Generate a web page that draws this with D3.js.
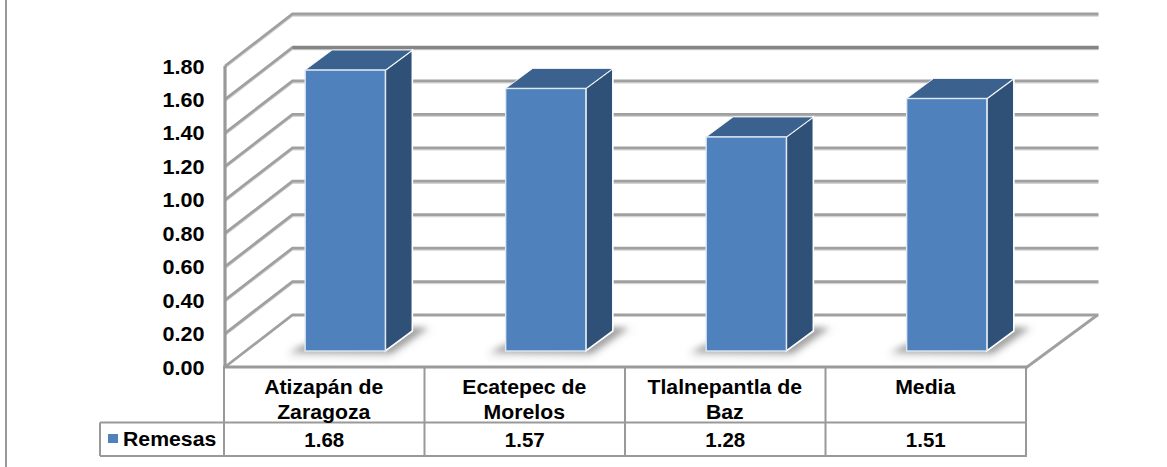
<!DOCTYPE html>
<html><head><meta charset="utf-8">
<script src="https://cdn.jsdelivr.net/npm/d3@7"></script>
<style>html,body{margin:0;padding:0;background:#fff;overflow:hidden}
text{font-family:"Liberation Sans",Arial,sans-serif;font-weight:bold;fill:#000}</style>
</head><body><svg id="c" width="1167" height="467"></svg>
<script>
const categories = [["Atizapán de","Zaragoza"],["Ecatepec de","Morelos"],["Tlalnepantla de","Baz"],["Media"]];
const categoryKeys = ["Atizapán de Zaragoza","Ecatepec de Morelos","Tlalnepantla de Baz","Media"];
const seriesName = "Remesas";
const values = [1.68,1.57,1.28,1.51];
const valueLabels = ["1.68","1.57","1.28","1.51"];
const yTicks = [0,0.2,0.4,0.6,0.8,1.0,1.2,1.4,1.6,1.8];

const svg = d3.select("#c");
const W = 802, L = 225, B = 367, T = 66;
const x = d3.scaleBand().domain(categoryKeys).range([L, L+W]).paddingInner(.6).paddingOuter(.3);
const y = d3.scaleLinear().domain([0,1.8]).range([B,T]);
const dx = 67.5, dy = -52;        // wall depth
const fx = 20, fy = -16;          // bar front offset from chart front
const bx = 27, by = -20;          // bar depth
const line = d3.line();
const grey = "#a0a0a0";

const defs = svg.append("defs");
const addBlur = (id,s) => defs.append("filter").attr("id",id).attr("x","-30%").attr("y","-100%").attr("width","160%").attr("height","300%")
  .append("feGaussianBlur").attr("stdDeviation",s);
addBlur("blur",3); addBlur("blurWide",5);
defs.append("filter").attr("id","soft").attr("x","-5%").attr("y","-5%").attr("width","110%").attr("height","110%")
  .append("feGaussianBlur").attr("stdDeviation",.45);

svg.append("line").attr("x1",6).attr("x2",6).attr("y1",0).attr("y2",467).attr("stroke","#999").attr("stroke-width",2);

// gridlines
const gridG = svg.append("g").attr("filter","url(#soft)");
const gridPts = t => [[L,y(t)],[L+dx,y(t)+dy],[L+W+dx+4,y(t)+dy]];
gridG.append("g").selectAll("path").data(yTicks.filter(t=>t>0)).join("path")
  .attr("d",t=>line(gridPts(t).map(p=>[p[0],p[1]+1.8]))).attr("fill","none").attr("stroke","#d4d4d4").attr("stroke-width",1.8);
gridG.append("g").selectAll("path").data(yTicks).join("path")
  .attr("d",t=>line(gridPts(t))).attr("fill","none").attr("stroke",grey).attr("stroke-width",2.8);
gridG.append("g").selectAll("path").data(yTicks.filter(t=>t===1.6)).join("path")
  .attr("d",t=>line(gridPts(t).slice(1))).attr("fill","none").attr("stroke","#858585").attr("stroke-width",3.4);
// floor right edge
gridG.append("path").attr("d",line([[L+W,B],[L+W+dx+3,B+dy]])).attr("fill","none").attr("stroke",grey).attr("stroke-width",2.8);
// left wall
gridG.append("line").attr("x1",L).attr("x2",L).attr("y1",T).attr("y2",B+1).attr("stroke","#999").attr("stroke-width",3.2);

// bars
const g = svg.append("g").selectAll("g").data(values).join("g");
const bL = (d,i) => x(categoryKeys[i])+fx;
const bR = (d,i) => bL(d,i)+x.bandwidth();
const bTop = d => y(d)+fy;
const bBot = B+fy;
g.append("path").attr("filter","url(#blurWide)").attr("fill","#e2e2e2")
  .attr("d",(d,i)=>line([[bL(d,i)-20,bBot+5],[bR(d,i)+4,bBot+6],[bR(d,i)+bx+6,bBot+by+4],[bR(d,i)+bx+26,bBot+by-2],[bL(d,i),bBot-6]])+"Z");
g.append("path").attr("filter","url(#blur)").attr("fill","#a2a2a2")
  .attr("d",(d,i)=>line([[bL(d,i)-15,bBot+1],[bL(d,i),bBot-6],[bR(d,i)+bx,bBot+by-4],[bR(d,i)+bx+16,bBot+by-3],[bR(d,i)+6,bBot+2]])+"Z");
g.append("path").attr("fill","#2f5077").attr("stroke","#fff").attr("stroke-width",1.6)
  .attr("d",(d,i)=>line([[bR(d,i),bTop(d)],[bR(d,i)+bx,bTop(d)+by],[bR(d,i)+bx,bBot+by],[bR(d,i),bBot]])+"Z");
g.append("path").attr("fill","#3b618f").attr("stroke","#fff").attr("stroke-width",.8)
  .attr("d",(d,i)=>line([[bL(d,i),bTop(d)],[bL(d,i)+bx,bTop(d)+by],[bR(d,i)+bx,bTop(d)+by],[bR(d,i),bTop(d)]])+"Z");
g.append("rect").attr("fill","#4f81bd").attr("stroke","#dfe8f3").attr("stroke-width",1.4)
  .attr("x",(d,i)=>bL(d,i)).attr("y",d=>bTop(d)).attr("width",x.bandwidth()).attr("height",d=>bBot-bTop(d));

// y labels
const fmt = d3.format(".2f");
const stretched = (sel,px,py,sx) => sel.attr("transform",(d,i)=>`translate(${px(d,i)},${py(d,i)}) scale(${sx},1)`);
stretched(svg.append("g").selectAll("text").data(yTicks).join("text").text(fmt)
  .attr("text-anchor","end").attr("font-size",20), ()=>204.5, d=>y(d)+7.5, 1.08);

// data table
const step = x.step();
const rowA = B, rowB = 422.5, rowC = 456, legendL = 100;
const cellX = d3.range(5).map(i=>L+i*step-1);
const tg = svg.append("g").attr("stroke","#999").attr("stroke-width",2).attr("fill","none").attr("filter","url(#soft)");
tg.append("line").attr("x1",L-2).attr("x2",L+W+1).attr("y1",rowA).attr("y2",rowA).attr("stroke-width",3);
tg.append("line").attr("x1",legendL).attr("x2",L+W).attr("y1",rowB).attr("y2",rowB);
tg.append("line").attr("x1",legendL).attr("x2",L+W).attr("y1",rowC).attr("y2",rowC);
tg.append("line").attr("x1",legendL).attr("x2",legendL).attr("y1",rowB).attr("y2",rowC);
tg.selectAll(".v").data(cellX).join("line").attr("class","v").attr("x1",d=>d).attr("x2",d=>d).attr("y1",rowA).attr("y2",rowC);

const catG = svg.append("g").selectAll("g").data(categories).join("g");
catG.each(function(lines,i){
  const cx = x(categoryKeys[i])+x.bandwidth()/2-1.5;
  stretched(d3.select(this).selectAll("text").data(lines).join("text").text(d=>d)
    .attr("text-anchor","middle").attr("font-size",19.5),()=>cx,(d,j)=>393.5+j*25,1.09);
});
stretched(svg.append("g").selectAll("text").data(valueLabels).join("text").text(d=>d)
  .attr("text-anchor","middle").attr("font-size",19.5),(d,i)=>x(categoryKeys[i])+x.bandwidth()/2-1,()=>446.5,1.05);
svg.append("rect").attr("x",108).attr("y",434).attr("width",10).attr("height",9).attr("fill","#4f81bd");
stretched(svg.append("g").selectAll("text").data([seriesName]).join("text").text(d=>d).attr("font-size",19.5),()=>123,()=>446,1.09);
</script></body></html>
